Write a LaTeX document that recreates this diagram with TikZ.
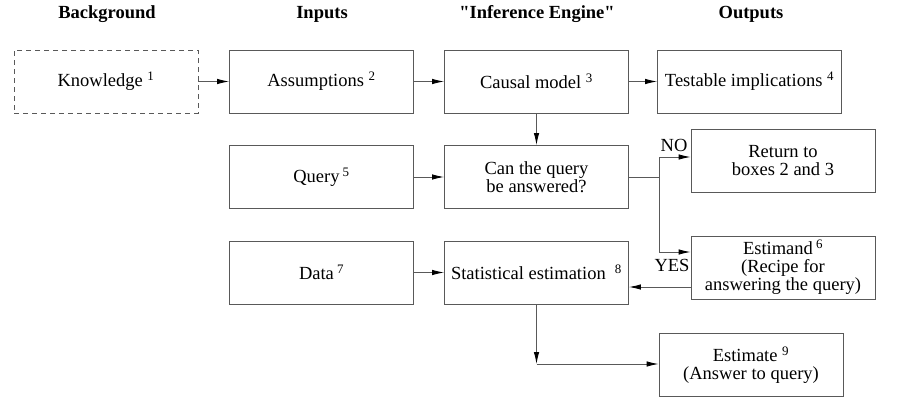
\documentclass[tikz,border=0pt]{standalone}
\usepackage{fontspec}
\setmainfont{Liberation Serif}[Ligatures=TeXOff]
\usetikzlibrary{arrows.meta}
\newcommand\mysup[1]{\textsuperscript{#1}}
\begin{document}
\begin{tikzpicture}[x=1pt,y=-1pt,
 box/.style={draw=black!65, line width=0.9pt, fill=white, minimum width=184pt, minimum height=63pt, inner sep=0pt, align=center, font=\fontsize{18.5}{18}\selectfont},
 dbox/.style={box, dash pattern=on 5pt off 4pt},
 head/.style={font=\fontsize{18.5}{20}\selectfont\bfseries, inner sep=0pt},
 ln/.style={draw=black!65, line width=0.9pt},
 arr/.style={ln, -{Latex[length=12pt,width=5.5pt,color=black]}},
 lab/.style={font=\fontsize{18.5}{18}\selectfont, inner sep=0pt}
]
\useasboundingbox (0,0) rectangle (899,407);
% headings
\node[head] (h1) at (107,14) {Background};
\node[head] (h2) at (322,14) {Inputs};
\node[head] (h3) at (537,14) {"Inference Engine"};
\node[head] (h4) at (751,14) {Outputs};
% boxes
\node[dbox] (know)   at (106,81.5)   {Knowledge \mysup{1}};
\node[box]  (assum)  at (321.5,81.5) {Assumptions \mysup{2}};
\node[box]  (causal) at (536.5,81.5) {Causal model \mysup{3}};
\node[box]  (test)   at (749.5,81.5) {Testable implications \mysup{4}};
\node[box]  (query)  at (321.5,177)  {Query\,\mysup{5}};
\node[box]  (canq)   at (536.5,177)  {Can the query\\be answered?};
\node[box]  (ret)    at (783,161)    {Return to\\boxes 2 and 3};
\node[box]  (estd)   at (783,267.5)  {Estimand\,\mysup{6}\\(Recipe for\\answering the query)};
\node[box]  (data)   at (321.5,272.5){Data\,\mysup{7}};
\node[box]  (stat)   at (536.5,272.5){Statistical estimation \ \mysup{8}};
\node[box]  (est)    at (751,365)    {Estimate \mysup{9}\\(Answer to query)};
% connectors
\draw[arr] (know) -- (assum);
\draw[arr] (assum) -- (causal);
\draw[arr] (causal) -- (test);
\draw[arr] (causal) -- (canq);
\draw[arr] (query) -- (canq);
\coordinate (sp) at (659,177);
\coordinate (no) at (659,157);
\coordinate (yes) at (659,252);
\draw[ln] (canq.east) -- (sp);
\draw[ln] (no) -- (yes);
\draw[arr] (no) -- (ret.west |- no);
\draw[arr] (yes) -- (estd.west |- yes);
\node[lab] (nol) at (674,145) {NO};
\node[lab] (yesl) at (672,265) {YES};
\coordinate (ey) at (0,287);
\draw[arr] (estd.west |- ey) -- (stat.east |- ey);
\draw[arr] (data) -- (stat);
\coordinate (cr) at (536.5,364);
\draw[arr] (stat.south) -- (cr);
\draw[arr] (cr) -- (est.west |- cr);
\end{tikzpicture}
\end{document}
